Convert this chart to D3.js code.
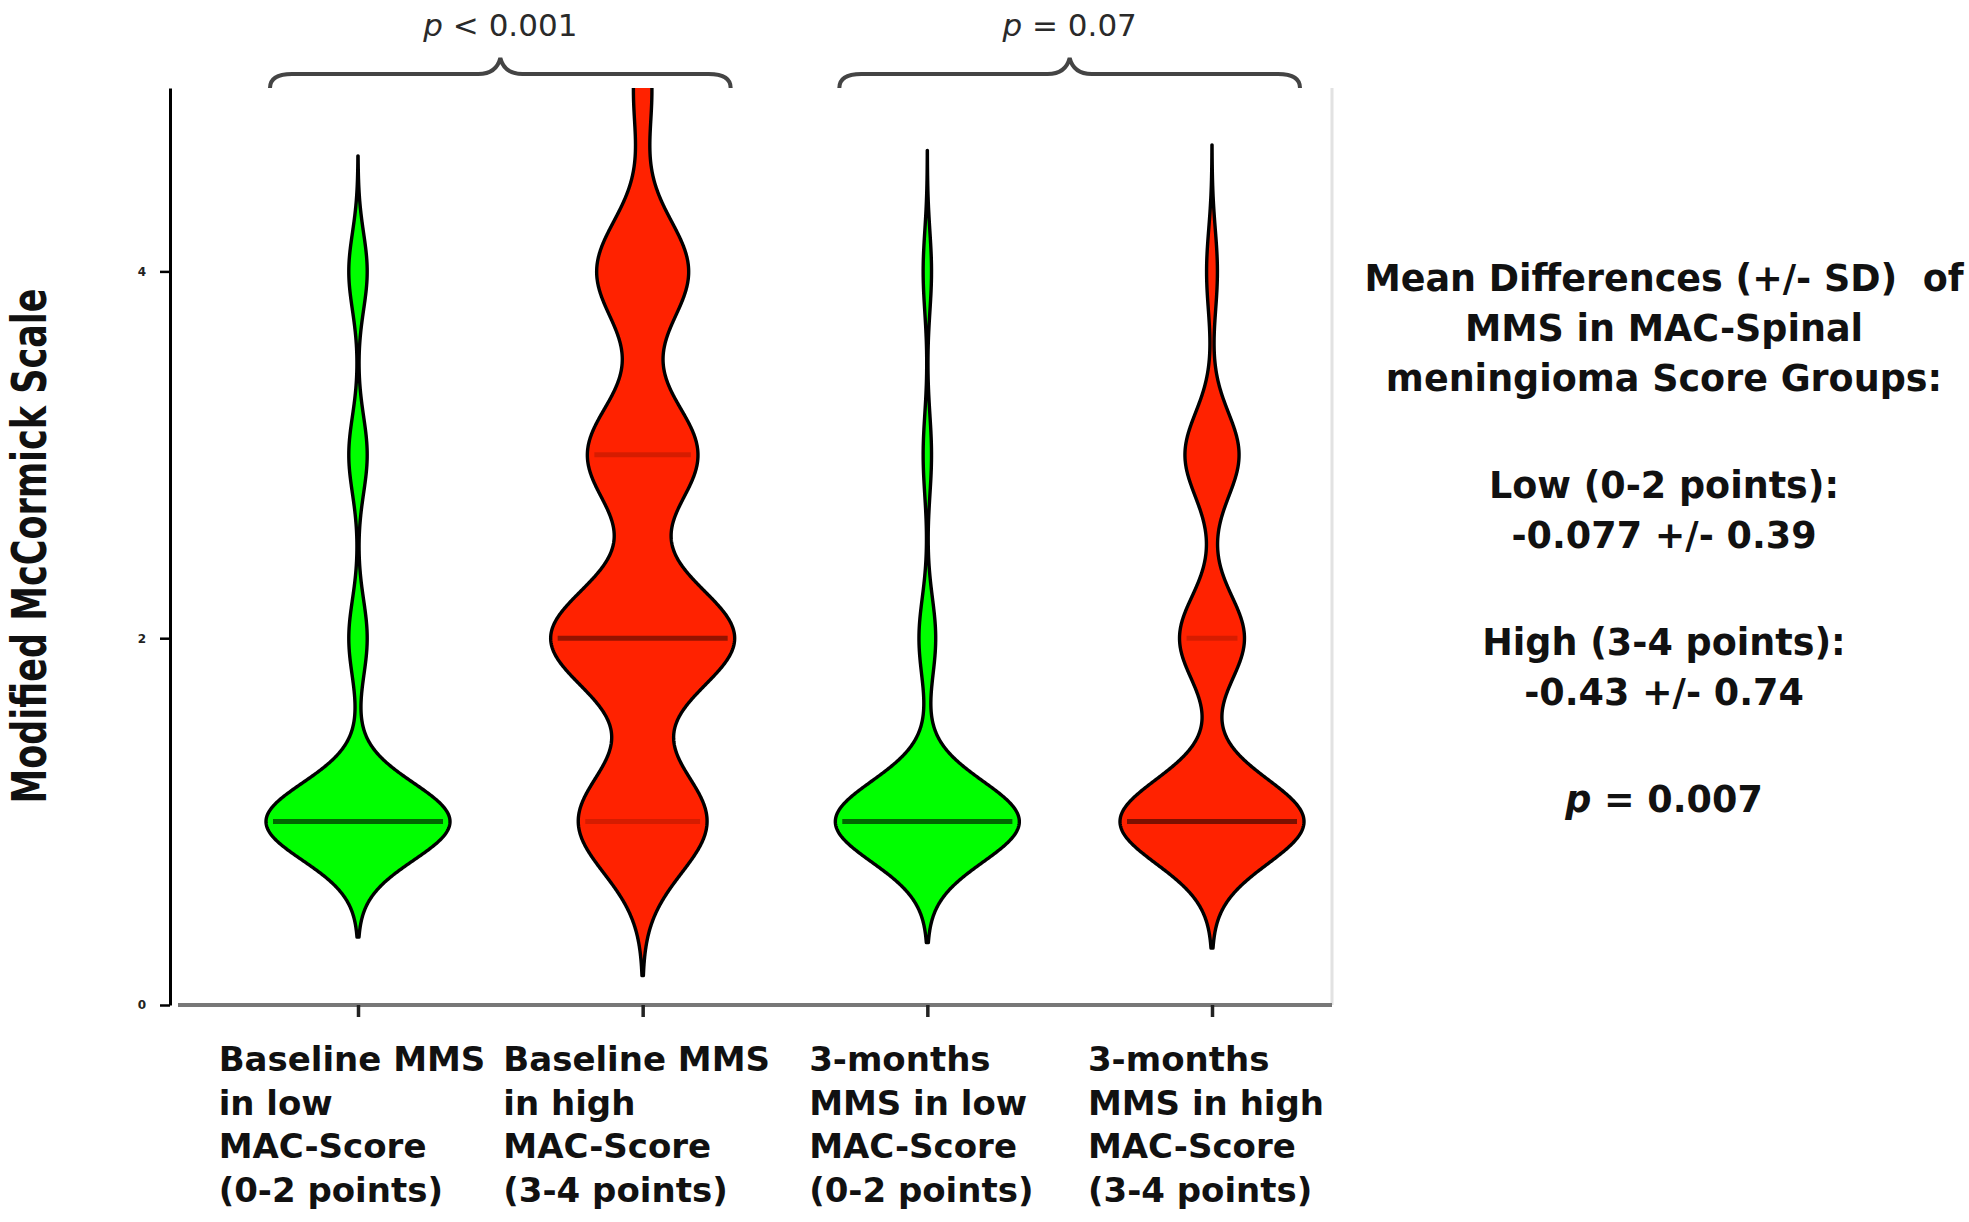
<!DOCTYPE html>
<html>
<head>
<meta charset="utf-8">
<script src="https://cdnjs.cloudflare.com/ajax/libs/d3/7.8.5/d3.min.js"></script>
<style>
    body { margin: 0; background: #fff; }
    text { font-family: "DejaVu Sans", sans-serif; }
</style>
</head>
<body>
<svg id="chart" width="1969" height="1222"></svg>
<script>
// x categories and their multi-line labels
let groups = ["baselineLow", "baselineHigh", "monthsLow", "monthsHigh"]
let groupLabels = [
    ["Baseline MMS", "in low", "MAC-Score", "(0-2 points)"],
    ["Baseline MMS", "in high", "MAC-Score", "(3-4 points)"],
    ["3-months", "MMS in low", "MAC-Score", "(0-2 points)"],
    ["3-months", "MMS in high", "MAC-Score", "(3-4 points)"]
]
// which MAC-score group each violin belongs to (drives the fill)
let groupScore = ["low", "high", "low", "high"]

// MMS grades and patients per grade
let mmsGrades = [1, 2, 3, 4, 5]
let countsBaselineLow = [20, 2, 2, 2, 0]
let countsBaselineHigh = [7, 10, 6, 5, 1]
let countsMonthsLow = [22, 2, 1, 1, 0]
let countsMonthsHigh = [17, 6, 5, 1, 0]
let groupCounts = [countsBaselineLow, countsBaselineHigh, countsMonthsLow, countsMonthsHigh]
// kernel bandwidth of each violin, in MMS units
let bandwidths = [0.21, 0.28, 0.22, 0.23]

// median and quartile lines
let medians = [1, 2, 1, 1]
let lowerQuartiles = [1, 1, 1, 1]
let upperQuartiles = [1, 3, 1, 2]

let yTicks = [0, 2, 4]
let yTitle = "Modified McCormick Scale"

// comparisons drawn as braces above the violins
let comparisons = [
    { from: "baselineLow", to: "baselineHigh", op: "<", value: "0.001" },
    { from: "monthsLow", to: "monthsHigh", op: "=", value: "0.07" }
]

// side note, empty strings are blank lines
let noteLines = [
    "Mean Differences (+/- SD)  of",
    "MMS in MAC-Spinal",
    "meningioma Score Groups:",
    "",
    "Low (0-2 points):",
    "-0.077 +/- 0.39",
    "",
    "High (3-4 points):",
    "-0.43 +/- 0.74",
    "",
    "p = 0.007"
]

let fills = { low: "#00ff00", high: "#ff2200" }

let svg = d3.select("#chart")
let plot = { left: 170, right: 1332, top: 88, bottom: 1005 }

let x = d3.scalePoint().domain(groups).range([358, 1212])
let y = d3.scaleLinear().domain([0, 5]).range([plot.bottom, plot.top])

// light frame on the right
svg.append("line")
    .attr("x1", plot.right).attr("x2", plot.right)
    .attr("y1", plot.top).attr("y2", plot.bottom)
    .attr("stroke", "#e2e2e2").attr("stroke-width", 3)

svg.append("clipPath").attr("id", "plotClip")
    .append("rect")
    .attr("x", plot.left).attr("y", plot.top)
    .attr("width", plot.right - plot.left).attr("height", plot.bottom - plot.top)

// gaussian kernel density over the grade counts
let gauss = u => Math.exp(-0.5 * u * u)
let densityOf = (counts, h) => {
    let used = mmsGrades.filter((g, i) => counts[i] > 0)
    let lo = d3.min(used) - 3 * h, hi = d3.max(used) + 3 * h
    return d3.range(lo, hi + 0.001, 0.005).map(v => {
        return [v, d3.sum(counts, (c, i) => c * gauss((v - mmsGrades[i]) / h))]
    })
}

let violins = svg.append("g").attr("clip-path", "url(#plotClip)")

groups.forEach((g, i) => {
    let cx = x(g)
    let dens = densityOf(groupCounts[i], bandwidths[i])
    let w = d3.scaleLinear().domain([0, d3.max(dens, d => d[1])]).range([0, 92])
    let area = d3.area()
        .y(d => y(d[0]))
        .x0(d => cx - w(d[1]))
        .x1(d => cx + w(d[1]))
        .curve(d3.curveLinear)
    violins.append("path")
        .datum(dens)
        .attr("d", area)
        .attr("fill", fills[groupScore[i]])
        .attr("stroke", "#000")
        .attr("stroke-width", 3.4)
        .attr("stroke-linejoin", "round")

    // half width of the violin at a value, for the median / quartile bars
    let halfAt = v => w(d3.sum(groupCounts[i], (c, k) => c * gauss((v - mmsGrades[k]) / bandwidths[i])))
    let bars = [
        { v: lowerQuartiles[i], op: 0.16 },
        { v: upperQuartiles[i], op: 0.16 },
        { v: medians[i], op: 0.42 }
    ]
    bars.forEach(b => {
        let hw = Math.max(halfAt(b.v) - 7, 0)
        violins.append("line")
            .attr("x1", cx - hw).attr("x2", cx + hw)
            .attr("y1", y(b.v)).attr("y2", y(b.v))
            .attr("stroke", "#000").attr("stroke-opacity", b.op)
            .attr("stroke-width", 5)
    })
})

// y axis, its tiny labels read as dots in the original
let yAxis = svg.append("g")
    .attr("transform", `translate(${plot.left},0)`)
    .call(d3.axisLeft(y).tickValues(yTicks).tickFormat(d3.format("d")).tickSize(10).tickPadding(14).tickSizeOuter(0))
yAxis.select(".domain").attr("stroke", "#000").attr("stroke-width", 3)
yAxis.selectAll(".tick line").attr("stroke", "#000").attr("stroke-width", 2.5)
yAxis.selectAll(".tick text").attr("font-size", 12).attr("font-weight", "bold").attr("fill", "#222")

// x axis line, grey, with ticks at the violin centres
svg.append("line")
    .attr("x1", plot.left + 8).attr("x2", plot.right)
    .attr("y1", plot.bottom).attr("y2", plot.bottom)
    .attr("stroke", "#777").attr("stroke-width", 4)
let xAxis = svg.append("g")
    .attr("transform", `translate(0,${plot.bottom})`)
    .call(d3.axisBottom(x).tickSize(12).tickFormat(""))
xAxis.select(".domain").remove()
xAxis.selectAll(".tick line").attr("stroke", "#222").attr("stroke-width", 3.5)

// category labels, left aligned, block centred under each tick
groups.forEach((g, i) => {
    let t = svg.append("text")
        .attr("font-size", 34).attr("font-weight", "bold").attr("fill", "#111")
    groupLabels[i].forEach((line, k) => {
        t.append("tspan").attr("y", 1071 + k * 43.5).text(line)
    })
    let widest = d3.max(t.selectAll("tspan").nodes(), n => n.getComputedTextLength())
    t.selectAll("tspan").attr("x", x(g) - widest / 2 - 6)
})

// y title, compressed like the original
svg.append("text")
    .attr("transform", `translate(46,546) rotate(-90)`)
    .attr("text-anchor", "middle")
    .attr("font-size", 48).attr("font-weight", "bold").attr("fill", "#111")
    .attr("textLength", 515).attr("lengthAdjust", "spacingAndGlyphs")
    .text(yTitle)

// braces with p values
comparisons.forEach(c => {
    let x0 = x(c.from) - 88, x1 = x(c.to) + 88, xm = (x0 + x1) / 2
    let yb = 74, yEnd = 88, yTop = 58, r = 22
    let p = d3.path()
    p.moveTo(x0, yEnd)
    p.quadraticCurveTo(x0, yb, x0 + r, yb)
    p.lineTo(xm - r, yb)
    p.quadraticCurveTo(xm - 4, yb, xm, yTop)
    p.quadraticCurveTo(xm + 4, yb, xm + r, yb)
    p.lineTo(x1 - r, yb)
    p.quadraticCurveTo(x1, yb, x1, yEnd)
    svg.append("path").attr("d", p.toString())
        .attr("fill", "none").attr("stroke", "#444").attr("stroke-width", 4)
    let t = svg.append("text")
        .attr("x", xm).attr("y", 36)
        .attr("text-anchor", "middle")
        .attr("font-size", 31).attr("fill", "#2a2a2a")
    t.append("tspan").attr("font-style", "italic").text("p")
    t.append("tspan").text(` ${c.op} ${c.value}`)
})

// side note
let note = svg.append("text")
    .attr("text-anchor", "middle")
    .attr("font-size", 36.5).attr("font-weight", "bold").attr("fill", "#111")
    .style("white-space", "pre")
let noteY = 291
noteLines.forEach((line, k) => {
    if (k > 0) noteY += line === "" ? 57 : 50
    if (line === "") return
    let ts = note.append("tspan").attr("x", 1664).attr("y", noteY)
    if (line.startsWith("p ")) {
        ts.append("tspan").attr("font-style", "italic").text("p")
        ts.append("tspan").text(line.slice(1))
    } else {
        ts.text(line)
    }
})
</script>
</body>
</html>
